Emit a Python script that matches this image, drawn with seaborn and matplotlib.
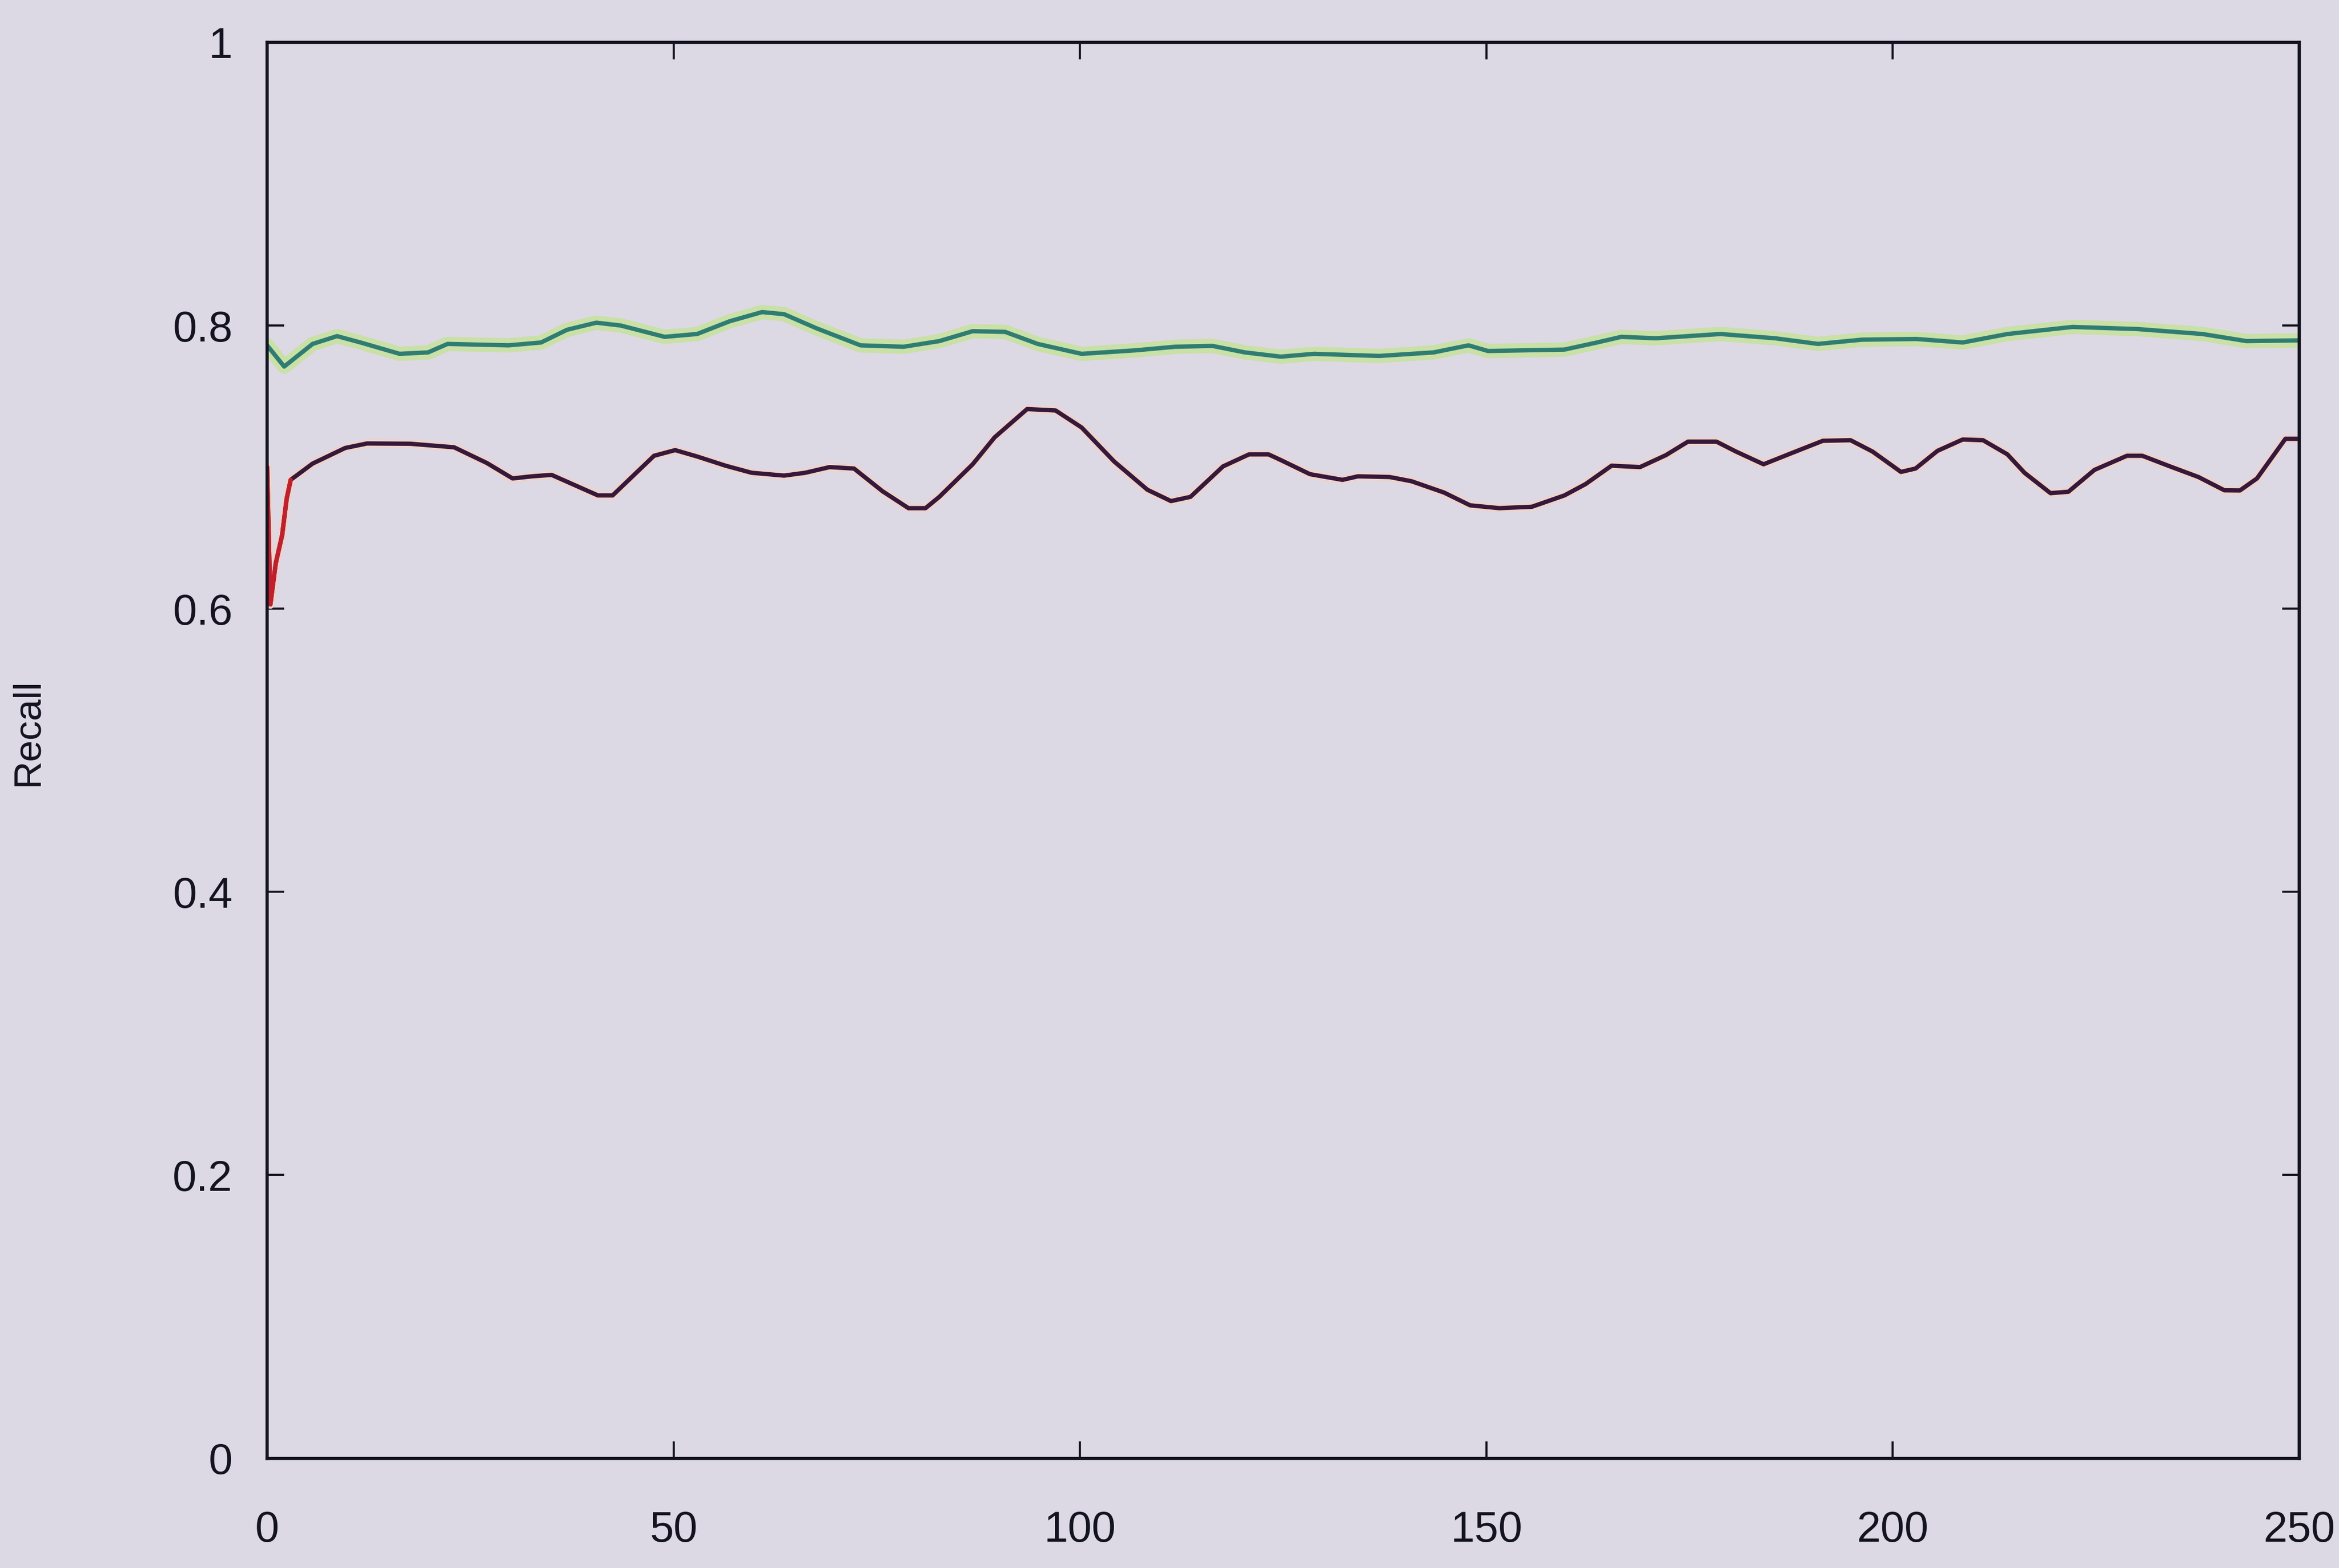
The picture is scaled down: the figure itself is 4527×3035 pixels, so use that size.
import matplotlib
matplotlib.use("Agg")
import matplotlib.pyplot as plt
import seaborn as sns
import pandas as pd

# ---- data ----
green_x = [0, 2.1, 5.6, 8.6, 11.5, 16.3, 19.8, 22.2, 29.7, 33.7,
           36.9, 40.5, 43.5, 48.9, 52.9, 56.9, 60.9, 63.6, 67.6, 73.0,
           78.3, 82.7, 86.8, 90.8, 94.8, 100.2, 106.9, 111.7, 116.3, 120.3,
           124.7, 128.8, 136.8, 143.5, 147.8, 150.2, 159.6, 163.6, 166.6, 170.8,
           178.8, 185.5, 190.8, 196.2, 202.9, 208.6, 214.1, 222.1, 230.1, 238.1,
           243.5, 250]
green_y = [0.786, 0.771, 0.787, 0.7925, 0.788, 0.780, 0.781, 0.787, 0.786, 0.788,
           0.797, 0.802, 0.800, 0.792, 0.794, 0.803, 0.8095, 0.808, 0.798, 0.786,
           0.785, 0.789, 0.796, 0.7955, 0.787, 0.780, 0.7825, 0.785, 0.7856, 0.781,
           0.778, 0.780, 0.7785, 0.781, 0.786, 0.782, 0.783, 0.788, 0.792, 0.791,
           0.794, 0.791, 0.787, 0.790, 0.7905, 0.788, 0.794, 0.799, 0.7975, 0.794,
           0.789, 0.7895]

red_x = [0, 0.4, 1.06, 1.85, 2.4, 2.9, 5.6, 9.6, 12.3, 17.6,
         23.0, 27.0, 30.2, 32.6, 35.0, 40.7, 42.5, 47.6, 50.2, 52.9,
         56.4, 59.6, 63.6, 66.2, 69.2, 72.2, 75.7, 78.9, 81.0, 82.7,
         86.8, 89.5, 93.5, 97.0, 100.2, 104.2, 108.3, 111.2, 113.6, 117.6,
         120.8, 123.2, 124.7, 128.3, 132.3, 134.2, 138.1, 140.8, 144.8, 148.0,
         151.6, 155.6, 159.6, 162.2, 165.4, 168.9, 172.1, 174.8, 178.3, 180.7,
         184.1, 187.6, 191.4, 194.8, 197.5, 201.0, 202.8, 205.5, 208.6, 211.1,
         214.1, 216.2, 219.4, 221.6, 224.8, 228.8, 230.7, 234.1, 237.6, 240.8,
         242.7, 244.8, 248.3, 250]
red_y = [0.700, 0.603, 0.632, 0.652, 0.6775, 0.691, 0.7025, 0.7135, 0.7167, 0.7165,
         0.714, 0.703, 0.692, 0.6935, 0.6945, 0.680, 0.680, 0.708, 0.712, 0.7075,
         0.701, 0.696, 0.694, 0.696, 0.700, 0.699, 0.683, 0.671, 0.671, 0.679,
         0.702, 0.721, 0.741, 0.740, 0.728, 0.704, 0.684, 0.676, 0.679, 0.7005,
         0.709, 0.709, 0.705, 0.695, 0.691, 0.6935, 0.693, 0.690, 0.682, 0.673,
         0.671, 0.672, 0.680, 0.688, 0.701, 0.700, 0.7085, 0.718, 0.718, 0.711,
         0.702, 0.710, 0.7186, 0.719, 0.711, 0.6966, 0.699, 0.7115, 0.7195, 0.719,
         0.709, 0.696, 0.6816, 0.6826, 0.698, 0.708, 0.708, 0.7005, 0.693, 0.6836,
         0.6835, 0.692, 0.720, 0.720]

x_ticks = [0, 50, 100, 150, 200, 250]
x_tick_labels = ["0", "50", "100", "150", "200", "250"]
y_ticks = [0, 0.2, 0.4, 0.6, 0.8, 1]
y_tick_labels = ["0", "0.2", "0.4", "0.6", "0.8", "1"]
y_label = "Recall"

# ---- styling ----
sns.set_style("ticks")
plt.rcParams["font.family"] = ["Liberation Sans", "DejaVu Sans"]
bg = "#dcd9e5"

fig = plt.figure(figsize=(45.27, 30.35), dpi=100, facecolor=bg)
ax = fig.add_axes([0.1142, 0.0700, 0.8688, 0.9030])
ax.set_facecolor(bg)

green = pd.DataFrame({"x": green_x, "y": green_y})
red = pd.DataFrame({"x": red_x, "y": red_y})

# green: pale halo + teal core
sns.lineplot(data=green, x="x", y="y", ax=ax, color="#c9e0a6", linewidth=20)
sns.lineplot(data=green, x="x", y="y", ax=ax, color="#2f7d72", linewidth=6)
# dark maroon line with pinkish halo, red start
sns.lineplot(data=red, x="x", y="y", ax=ax, color="#efd2cc", linewidth=12)
sns.lineplot(data=red, x="x", y="y", ax=ax, color="#35193a", linewidth=6)
sns.lineplot(data=red.iloc[:6], x="x", y="y", ax=ax, color="#c0202c", linewidth=6)

ax.set_xlim(0, 250)
ax.set_ylim(0, 1)
ax.set_xticks(x_ticks)
ax.set_xticklabels(x_tick_labels)
ax.set_yticks(y_ticks)
ax.set_yticklabels(y_tick_labels)

for s in ax.spines.values():
    s.set_visible(True)
    s.set_linewidth(4.5)
    s.set_color("#141420")

ax.tick_params(axis="both", direction="in", length=24, width=3, color="#141420",
               top=True, right=True, labelsize=60, labelcolor="#141420")
ax.tick_params(axis="x", pad=72)
ax.tick_params(axis="y", pad=48)

ax.set_xlabel("")
ax.set_ylabel(y_label, fontsize=54, color="#141420")
ax.yaxis.set_label_coords(-0.109, 0.513)

fig.savefig("out.png", dpi=100, facecolor=bg)
